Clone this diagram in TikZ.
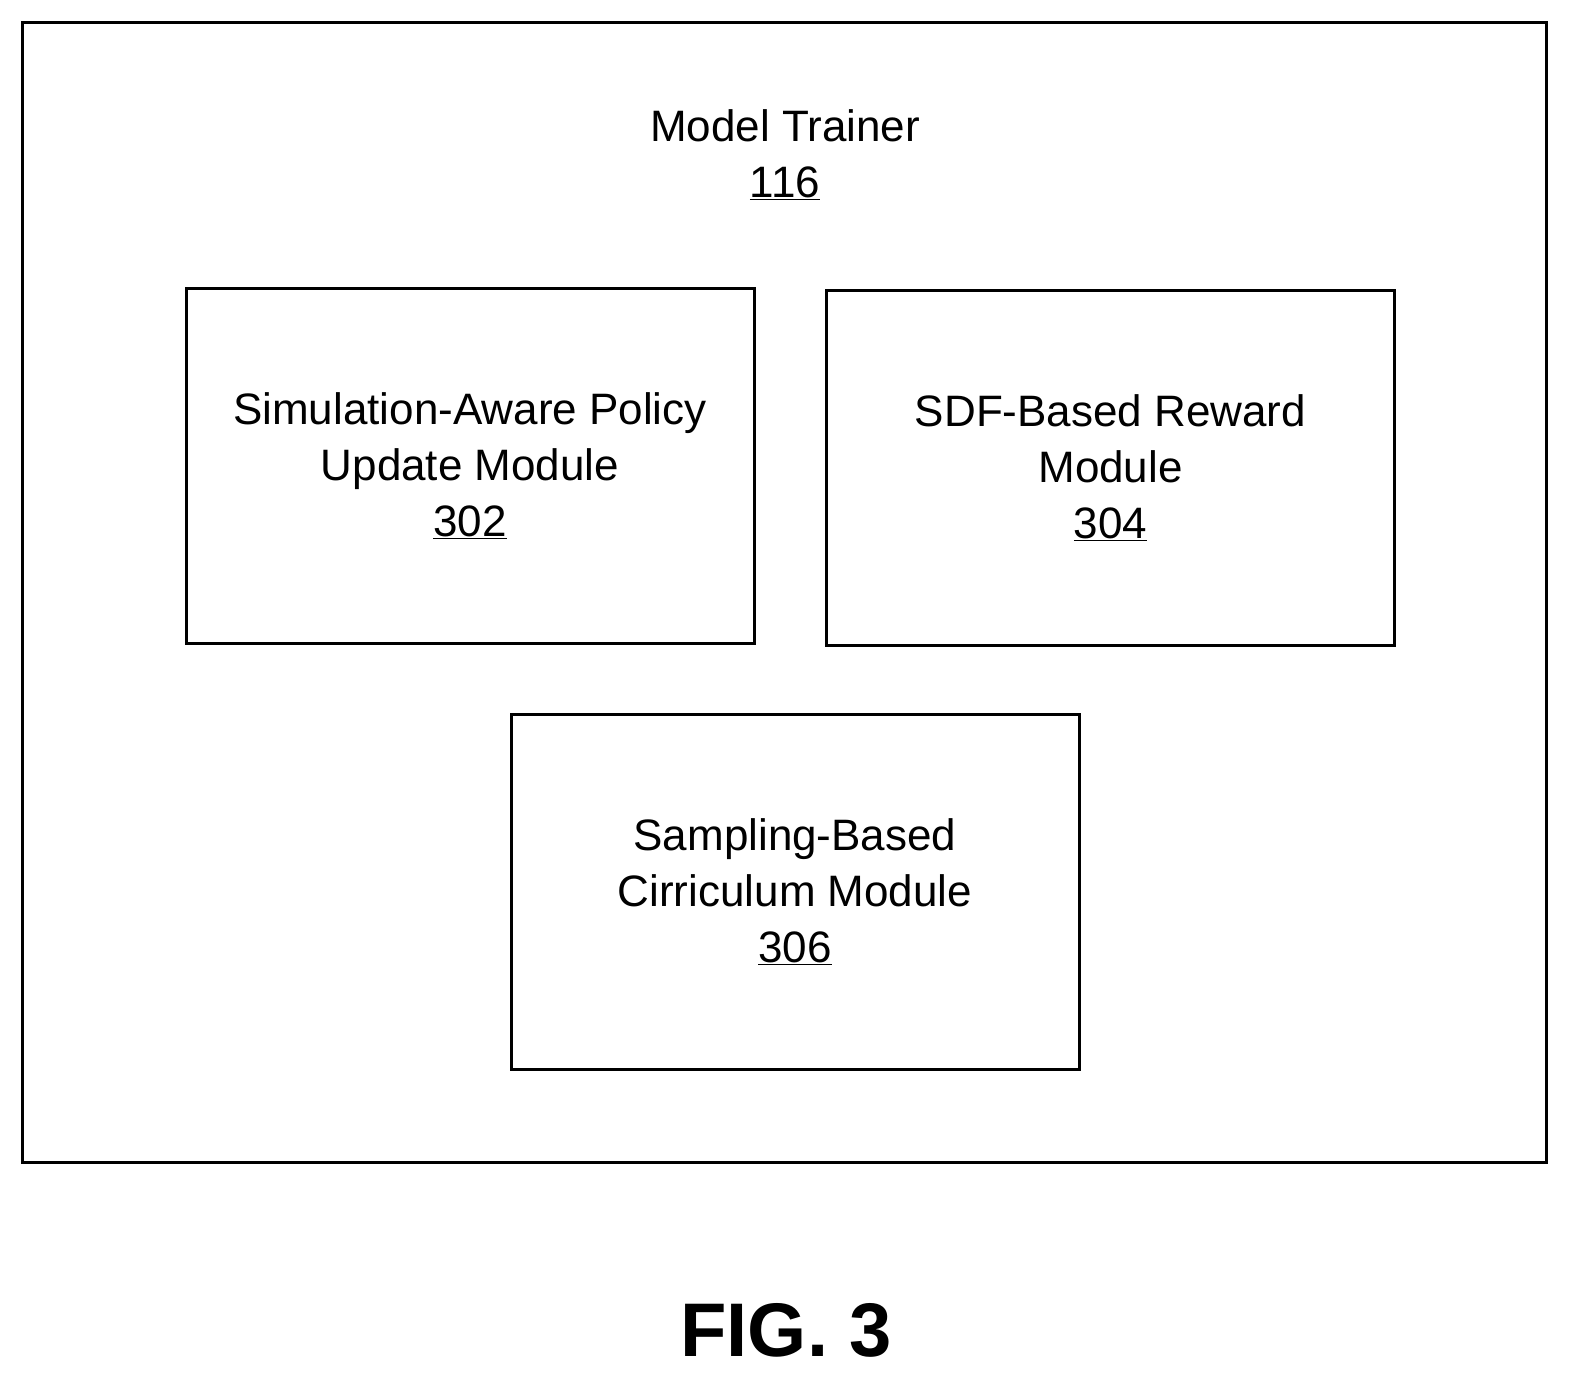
\documentclass[tikz,border=0pt]{standalone}
\usepackage{fontspec}
\setmainfont{Liberation Sans}
\usetikzlibrary{positioning}
\tikzset{
  module/.style={draw,line width=3pt,minimum width=568pt,minimum height=355pt,align=center,
    font=\fontsize{44}{56}\selectfont},
}
\begin{document}
\begin{tikzpicture}[x=1pt,y=-1pt]
      \useasboundingbox (0,0) rectangle (1588,1392);
      \draw[line width=3pt] (22,22) rectangle (1546,1162);
      \node[align=center,font=\fontsize{44}{56}\selectfont] (trainer) at (785,155) {Model Trainer\\\underline{116}};
      \node[module] (policy) at (470,465.5) {Simulation-Aware Policy\\Update Module\\\underline{302}};
      \node[module] (reward) at (1110.5,467.5) {SDF-Based Reward\\Module\\\underline{304}};
      \node[module] (curriculum) at (795,892) {Sampling-Based\\Cirriculum Module\\\underline{306}};
      \node[font=\fontsize{76}{90}\selectfont\bfseries] (fig) at (786,1330) {FIG. 3};
\end{tikzpicture}
\end{document}
